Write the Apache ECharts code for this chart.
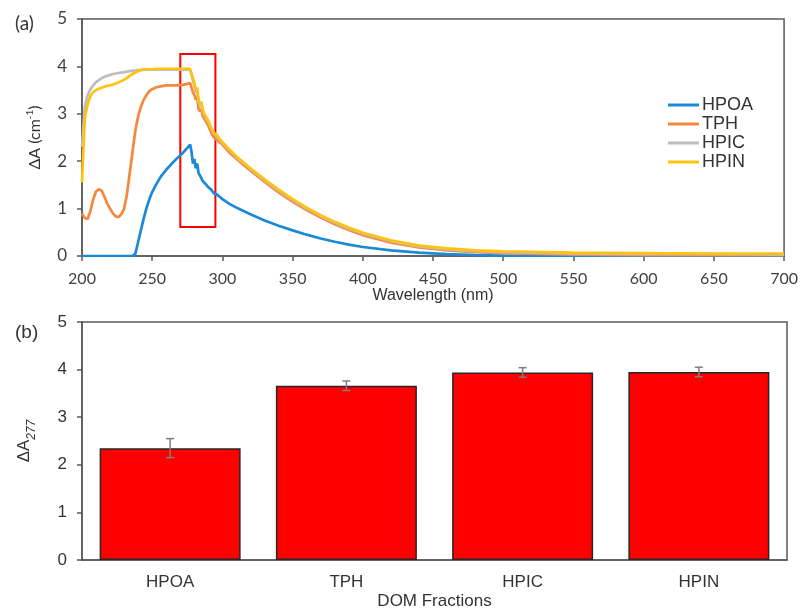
<!DOCTYPE html>
<html>
<head>
<meta charset="utf-8">
<script src="https://cdn.jsdelivr.net/npm/echarts@6/dist/echarts.min.js"></script>
<style>
  html, body { margin: 0; padding: 0; background: #fff; }
  #main { width: 801px; height: 611px; }
</style>
</head>
<body>
<div id="main"></div>
<script>
// (a) spectra: wavelength (nm) and delta absorbance (cm-1)
const wavelength = [200,202,204,206,208,210,212,214,216,218,220,222,224,226,228,230,232,234,236,238,
  240,242,244,246,248,250,253,256,260,264,268,272,275,277,278,279,280,281,282,283,284,285,286,287,288,289,
  290,292,294,296,298,300,305,310,315,320,330,340,350,360,370,380,390,400,420,440,460,480,500,550,600,650,700];

const hpoa = [0,0,0,0,0,0,0,0,0,0,0,0,0,0,0,0,0,0,0,0.05,
  0.3,0.55,0.8,1.02,1.2,1.35,1.52,1.67,1.82,1.95,2.07,2.18,2.28,2.35,2.2,1.95,2.05,1.85,1.95,1.75,1.7,1.68,1.58,1.6,1.52,1.5,
  1.45,1.4,1.32,1.3,1.25,1.2,1.1,1.02,0.95,0.88,0.75,0.64,0.54,0.45,0.37,0.3,0.24,0.19,0.12,0.07,0.04,0.02,0.01,0.005,0.01,0.01,0.01];

const tph = [0.9,0.8,0.78,0.95,1.2,1.36,1.41,1.38,1.25,1.1,1.0,0.9,0.84,0.82,0.88,1.0,1.3,1.75,2.2,2.65,
  2.95,3.15,3.3,3.4,3.48,3.52,3.56,3.58,3.6,3.6,3.6,3.61,3.63,3.65,3.62,3.45,3.4,3.3,3.35,3.1,3.05,3.1,2.95,2.9,2.85,2.8,
  2.75,2.6,2.5,2.45,2.4,2.35,2.18,2.05,1.92,1.8,1.57,1.34,1.15,0.97,0.81,0.67,0.55,0.44,0.28,0.18,0.12,0.08,0.06,0.03,0.02,0.02,0.02];

const hpic = [2.3,3.15,3.4,3.52,3.6,3.67,3.71,3.75,3.78,3.8,3.82,3.84,3.85,3.86,3.87,3.88,3.89,3.9,3.91,3.91,
  3.92,3.93,3.93,3.93,3.93,3.93,3.93,3.93,3.93,3.93,3.93,3.93,3.93,3.93,3.9,3.7,3.6,3.45,3.5,3.25,3.15,3.2,3.05,2.98,2.92,2.88,
  2.82,2.68,2.58,2.52,2.45,2.38,2.23,2.08,1.95,1.83,1.6,1.38,1.18,1.0,0.84,0.7,0.58,0.47,0.31,0.2,0.14,0.1,0.08,0.05,0.04,0.04,0.03];

const hpin = [1.55,2.9,3.2,3.38,3.46,3.5,3.53,3.55,3.57,3.59,3.6,3.62,3.64,3.66,3.69,3.72,3.76,3.8,3.84,3.87,
  3.9,3.92,3.93,3.94,3.94,3.94,3.95,3.95,3.95,3.95,3.95,3.95,3.95,3.95,3.93,3.75,3.65,3.5,3.55,3.3,3.2,3.25,3.1,3.0,2.95,2.9,
  2.85,2.7,2.6,2.55,2.47,2.4,2.25,2.1,1.97,1.85,1.62,1.4,1.2,1.02,0.86,0.72,0.6,0.49,0.33,0.22,0.16,0.12,0.1,0.07,0.06,0.05,0.05];

const seriesNames = ['HPOA', 'TPH', 'HPIC', 'HPIN'];
const seriesColors = ['#1b8ad6', '#f7873a', '#bdbdbd', '#ffc20e'];

// highlighted region (wavelength, absorbance)
const boxWavelength = [270, 295];
const boxAbsorbance = [0.61, 4.26];

// (b) delta A at 277 nm
const fractions = ['HPOA', 'TPH', 'HPIC', 'HPIN'];
const a277 = [2.35, 3.66, 3.94, 3.95];
const a277Err = [0.2, 0.1, 0.1, 0.1];

const axisColor = '#595959';
const textColor = '#404040';
const calibriLike = 'Lato, "Liberation Sans", sans-serif';
const arialLike = '"Liberation Sans", Arial, sans-serif';

function pairs(ys) {
  return wavelength.map((w, i) => [w, ys[i]]);
}

const spectra = [hpoa, tph, hpic, hpin];

const lineSeries = spectra.map((ys, i) => {
  const s = {
    name: seriesNames[i],
    type: 'line',
    xAxisIndex: 0,
    yAxisIndex: 0,
    data: pairs(ys),
    showSymbol: false,
    lineStyle: { width: 2.7, color: seriesColors[i] },
    itemStyle: { color: seriesColors[i] },
    z: 2 + i
  };
  if (i === 3) {
    s.markArea = {
      silent: true,
      itemStyle: { color: 'rgba(0,0,0,0)', borderColor: '#ff0000', borderWidth: 2 },
      data: [[
        { coord: [boxWavelength[0], boxAbsorbance[1]] },
        { coord: [boxWavelength[1], boxAbsorbance[0]] }
      ]]
    };
  }
  return s;
});

const errData = fractions.map((f, i) => [i, a277[i] - a277Err[i], a277[i] + a277Err[i]]);

const chart = echarts.init(document.getElementById('main'));
chart.setOption({
  animation: false,
  backgroundColor: '#fff',
  title: [
    { text: '(a)', left: 10, top: 9, textStyle: { fontFamily: calibriLike, fontSize: 19, fontWeight: 'normal', color: '#333' } },
    { text: '(b)', left: 10, top: 318, textStyle: { fontFamily: arialLike, fontSize: 19, fontWeight: 'normal', color: '#333' } }
  ],
  legend: {
    data: seriesNames,
    orient: 'vertical',
    left: 663,
    top: 91,
    icon: 'rect',
    itemWidth: 31,
    itemHeight: 3,
    itemGap: 1,
    textStyle: { fontFamily: arialLike, fontSize: 18, color: '#333', padding: [0, 0, 0, -2] }
  },
  grid: [
    { left: 82, right: 14, top: 19, height: 237, show: true, borderColor: axisColor, borderWidth: 1.5 },
    { left: 82, right: 14, top: 322, height: 239, show: true, borderColor: axisColor, borderWidth: 1.5 }
  ],
  xAxis: [
    {
      gridIndex: 0,
      type: 'value',
      min: 200,
      max: 700,
      interval: 50,
      name: 'Wavelength (nm)',
      nameLocation: 'middle',
      nameGap: 31,
      nameTextStyle: { fontFamily: arialLike, fontSize: 16, color: '#333' },
      axisLine: { show: true, lineStyle: { color: axisColor, width: 1.5 } },
      axisTick: { show: true, length: 5, lineStyle: { color: axisColor, width: 1.5 } },
      axisLabel: { fontFamily: calibriLike, fontSize: 16, color: textColor, margin: 15 },
      splitLine: { show: false }
    },
    {
      gridIndex: 1,
      type: 'category',
      data: fractions,
      name: 'DOM Fractions',
      nameLocation: 'middle',
      nameGap: 33,
      nameTextStyle: { fontFamily: arialLike, fontSize: 17, color: '#333' },
      axisLine: { show: true, lineStyle: { color: axisColor, width: 1.5 } },
      axisTick: { show: false },
      axisLabel: { fontFamily: arialLike, fontSize: 17, color: '#333', margin: 14 },
      splitLine: { show: false }
    }
  ],
  yAxis: [
    {
      gridIndex: 0,
      type: 'value',
      min: 0,
      max: 5,
      interval: 1,
      name: '{t|ΔA (cm}{s|-1}{t|)}',
      nameLocation: 'middle',
      nameGap: 39,
      nameTextStyle: {
        rich: {
          t: { fontFamily: calibriLike, fontSize: 16, color: '#333', lineHeight: 18, verticalAlign: 'bottom' },
          s: { fontFamily: calibriLike, fontSize: 10, color: '#333', lineHeight: 18, verticalAlign: 'top' }
        }
      },
      axisLine: { show: true, lineStyle: { color: axisColor, width: 1.5 } },
      axisTick: { show: true, length: 5, lineStyle: { color: axisColor, width: 1.5 } },
      axisLabel: { fontFamily: calibriLike, fontSize: 17, color: textColor, margin: 15 },
      splitLine: { show: false }
    },
    {
      gridIndex: 1,
      type: 'value',
      min: 0,
      max: 5,
      interval: 1,
      name: '{t|ΔA}{s|277}',
      nameLocation: 'middle',
      nameGap: 44,
      nameTextStyle: {
        rich: {
          t: { fontFamily: arialLike, fontSize: 17, color: '#333', lineHeight: 22, verticalAlign: 'top' },
          s: { fontFamily: arialLike, fontSize: 12, fontStyle: 'italic', color: '#333', lineHeight: 22, verticalAlign: 'bottom' }
        }
      },
      axisLine: { show: true, lineStyle: { color: axisColor, width: 1.5 } },
      axisTick: { show: true, length: 5, lineStyle: { color: axisColor, width: 1.5 } },
      axisLabel: { fontFamily: arialLike, fontSize: 17, color: '#333', margin: 15 },
      splitLine: { show: false }
    }
  ],
  series: lineSeries.concat([
    {
      name: 'ΔA277',
      type: 'bar',
      xAxisIndex: 1,
      yAxisIndex: 1,
      data: a277,
      barCategoryGap: '20%',
      itemStyle: { color: '#ff0000', borderColor: '#262626', borderWidth: 1.5 }
    },
    {
      name: 'error',
      type: 'custom',
      xAxisIndex: 1,
      yAxisIndex: 1,
      data: errData,
      z: 10,
      renderItem: function (params, api) {
        const idx = api.value(0);
        const lo = api.coord([idx, api.value(1)]);
        const hi = api.coord([idx, api.value(2)]);
        const half = 4;
        const style = { stroke: '#7f7f7f', lineWidth: 1.5 };
        return {
          type: 'group',
          children: [
            { type: 'line', shape: { x1: lo[0], y1: lo[1], x2: hi[0], y2: hi[1] }, style: style },
            { type: 'line', shape: { x1: lo[0] - half, y1: lo[1], x2: lo[0] + half, y2: lo[1] }, style: style },
            { type: 'line', shape: { x1: hi[0] - half, y1: hi[1], x2: hi[0] + half, y2: hi[1] }, style: style }
          ]
        };
      }
    }
  ])
});
</script>
</body>
</html>
